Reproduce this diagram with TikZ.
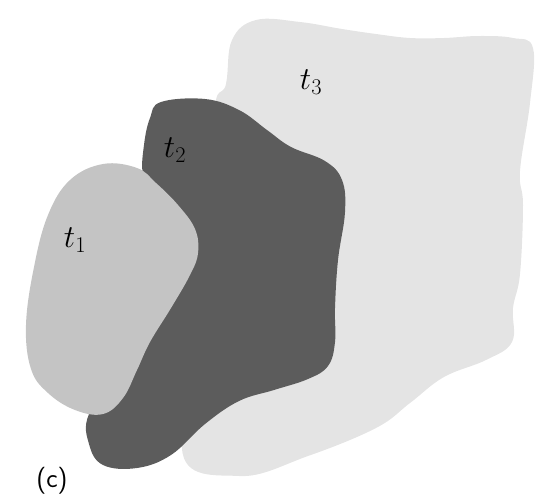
\RequirePackage{fix-cm}
\documentclass[tikz,border=0pt]{standalone}
\usepackage{amsmath}
\usepackage{tikz}
\usepackage{xcolor}
\usetikzlibrary{positioning}
\definecolor{Blob_Light}{HTML}{E4E4E4}
\definecolor{Blob_Mid}{HTML}{C4C4C4}
\definecolor{Blob_Dark}{HTML}{5C5C5C}

\begin{document}
\begin{tikzpicture}[x=1pt, y=-1pt]
    \useasboundingbox (0,0) rectangle (536,498);
    \tikzset{blob/.style={smooth cycle, tension=0.65}}

    % Region t3 (back)
    \fill[Blob_Light] plot[blob] coordinates {(226,84) (232,40) (256,20) (300,22) (342,29) (376,34) (410,38) (444,38) (479,36) (513,38) (533,48) (530,103) (520,171) (523,205) (520,274) (513,308) (512,342) (486,360) (444,377) (410,403) (376,428) (308,456) (239,476) (182,448) (230,300) (215,120)};

    % Region t2 (middle)
    \fill[Blob_Dark] plot[blob] coordinates {(161,102) (205,99) (239,110) (267,130) (291,147) (325,161) (342,180) (345,212) (338,260) (335,308) (335,342) (328,366) (308,379) (274,390) (239,401) (205,424) (171,455) (137,468) (103,465) (89,444) (89,414) (120,370) (160,320) (185,280) (195,245) (180,220) (155,200) (143,175) (144,145) (150,118)};

    % Region t1 (front)
    \fill[Blob_Mid] plot[blob] coordinates {(103,164) (137,168) (156,183) (178,205) (195,229) (198,253) (190,275) (171,308) (150,342) (137,370) (123,398) (103,414) (75,410) (48,393) (31,369) (26,325) (34,267) (48,215) (70,180)};

    % Labels
    \node (lbl_t3) at (311,82) {\fontsize{32}{36}\selectfont $t_3$};
    \node (lbl_t2) at (175,150) {\fontsize{32}{36}\selectfont $t_2$};
    \node (lbl_t1) at (75,240) {\fontsize{32}{36}\selectfont $t_1$};
    \node (lbl_c) at (52,481) {\fontsize{27}{30}\selectfont\sffamily (c)};
\end{tikzpicture}
\end{document}
